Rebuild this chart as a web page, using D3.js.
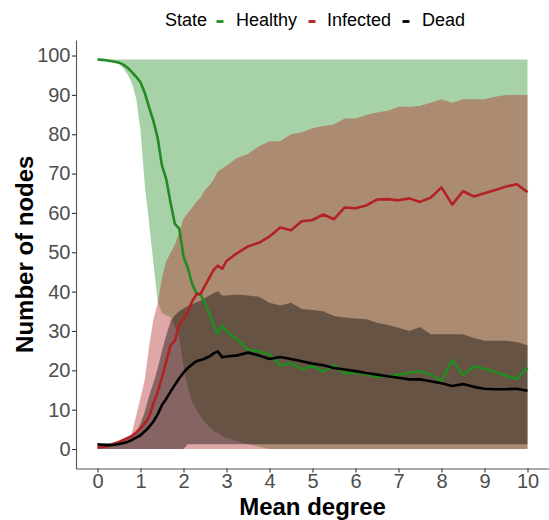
<!DOCTYPE html>
<html>
<head>
<meta charset="utf-8">
<script src="https://cdn.jsdelivr.net/npm/d3@7"></script>
<style>
  html, body { margin: 0; padding: 0; background: #fff; }
  svg { display: block; font-family: "Liberation Sans", Arial, sans-serif; }
</style>
</head>
<body>
<svg id="chart" width="549" height="520"></svg>
<script>
// Mean degree of the network (x positions of every observation)
const degree = [0,0.1,0.2,0.3,0.4,0.5,0.6,0.7,0.8,0.9,1,1.1,1.2,1.3,1.4,1.5,1.6,1.7,1.8,1.9,
  2,2.1,2.2,2.3,2.4,2.5,2.6,2.7,2.8,2.9,3,3.25,3.5,3.75,4,4.25,4.5,4.75,5,5.25,5.5,5.75,
  6,6.25,6.5,6.75,7,7.25,7.5,7.75,8,8.25,8.5,8.75,9,9.25,9.5,9.75,10];

// Mean number of nodes per state
const healthyMean = [99,98.9,98.8,98.6,98.4,98.2,97.7,96.9,95.8,94.6,93.2,90.5,86.8,83.4,79,72,68.5,62.5,57.2,56,
  49,46,42,39.6,39.2,37,34.5,31.5,29.2,31.4,30,27.8,25.3,24.8,24,21.3,21.8,20.3,21.1,19.7,21.3,19.2,
  19.4,19,18.3,18.5,18.9,19.4,19.8,18.9,17.3,22.6,18.8,21,20.4,19.6,18.6,17.8,20.7];
const infectedMean = [0.4,0.5,0.7,1,1.4,1.8,2.3,2.8,3.3,4.2,5.2,6.5,8.2,11.5,14.5,18.3,22.3,26.3,27.6,31.6,
  33,35,37.5,39.3,39.5,41.5,43.5,45.5,46.6,45.8,47.8,49.8,51.5,52.4,54,56.3,55.6,57.9,58.2,59.6,58.4,61.4,
  61.2,61.9,63.4,63.5,63.2,63.7,62.8,63.9,66.5,62.1,65.5,64.2,65,65.8,66.7,67.3,65.3];
const deadMean = [1.2,1.1,1,1,1.1,1.3,1.5,1.8,2.3,2.9,3.5,4.5,5.6,7,8.8,11.2,12.8,14.6,16.3,18,
  19.4,20.6,21.5,22.3,22.6,23,23.5,24.3,24.8,23.3,23.5,23.8,24.5,23.8,22.9,23.4,22.9,22.3,21.7,21.3,20.6,20.2,
  19.8,19.3,18.9,18.5,18.1,17.7,17.7,17.2,16.7,16,16.5,15.8,15.3,15.2,15.2,15.3,14.8];

// Range (low / high) of nodes per state across runs
const healthyLow = [99,99,99,98.8,98.5,97.9,96.8,95.2,93,89,81,67,57.5,47.3,37.5,34.5,34,33.5,31,28.5,
  21,15.5,12,10,8.2,6.8,5.6,4.6,4,3.3,2.8,2,1.2,0.6,0,0,0,0,0,0,0,0,
  0,0,0,0,0,0,0,0,0,0,0,0,0,0,0,0,0];
const healthyHigh = [99,99,99,99,99,99,99,99,99,99,99,99,99,99,99,99,99,99,99,99,
  99,99,99,99,99,99,99,99,99,99,99,99,99,99,99,99,99,99,99,99,99,99,
  99,99,99,99,99,99,99,99,99,99,99,99,99,99,99,99,99];
const infectedLow = [0,0,0,0,0,0,0,0,0,0,0,0,0,0,0,0,0,0,0,0,
  0,0,0,0,0,0,0,0,0,0,0,0,0,0,0,0,0,0,0,0,0,0,
  0,0,0,0,0,0,0,0,0,0,0,0,0,0,0,0,0];
const infectedHigh = [1,1,1,1.2,1.5,1.8,2.1,2.5,4,8.5,13,17.7,26,33,37,43.5,47.8,49.8,52,55,
  58.5,60,61.3,62.8,64,65.8,67,68.5,70.5,71.3,72,74,75,76.9,78.2,78.2,80,80.5,81.5,82.1,82.5,84,
  84,84.9,85.5,86,87,87,87.2,88,88.9,88,88.9,88.9,88.9,89.5,90,90,90];
const deadLow = [0,0,0,0,0,0,0,0,0,0,0,0,0,0,0,0,0,0,0,0,
  0,1.2,1.2,1.2,1.2,1.2,1.2,1.2,1.2,1.2,1.2,1.2,1.2,1.2,1.2,1.2,1.2,1.2,1.2,1.2,1.2,1.2,
  1.2,1.2,1.2,1.2,1.2,1.2,1.2,1.2,1.2,1.2,1.2,1.2,1.2,1.2,1.2,1.2,1.2];
const deadHigh = [1.5,1.5,1.5,1.5,1.8,2,2.4,2.8,3.3,4.3,6.5,9.5,13.5,16.8,20.5,25,29,32.5,34,35,
  35.7,36.3,36.8,37.3,37.7,38.3,39,39.6,40.1,39,39,39.3,39,38.7,37.2,36.5,37.2,35.6,35.3,35,33.8,33.4,
  33.2,33,32.1,31.5,30.8,30,31,29.2,29.2,29.2,29.2,28.2,27.5,27.5,27.5,27.2,26.4];

// Axis ticks and legend entries
const xTicks = [0,1,2,3,4,5,6,7,8,9,10];
const yTicks = [0,10,20,30,40,50,60,70,80,90,100];
const states = ["Healthy", "Infected", "Dead"];
const stateColors = ["#228B22", "#B22222", "#000000"];

const series = [
  { name: "Healthy", mean: healthyMean, low: healthyLow, high: healthyHigh },
  { name: "Infected", mean: infectedMean, low: infectedLow, high: infectedHigh },
  { name: "Dead", mean: deadMean, low: deadLow, high: deadHigh }
];

const svg = d3.select("#chart");
const panel = { left: 76, right: 549, top: 40, bottom: 468.5 };

const x = d3.scaleLinear().domain([-0.5, 10.5]).range([panel.left, panel.right]);
const y = d3.scaleLinear().domain([-4.95, 103.95]).range([panel.bottom, panel.top]);
const color = d3.scaleOrdinal().domain(states).range(stateColors);

// Ribbons (range across runs), translucent so overlaps blend
const area = d3.area()
  .x((d, i) => x(degree[i]))
  .y0(d => y(d[0]))
  .y1(d => y(d[1]));

svg.append("g").selectAll("path")
  .data(series)
  .join("path")
  .attr("d", s => area(s.low.map((v, i) => [v, s.high[i]])))
  .attr("fill", s => color(s.name))
  .attr("fill-opacity", 0.4)
  .attr("stroke", "none");

// Mean lines
const line = d3.line()
  .x((d, i) => x(degree[i]))
  .y(d => y(d));

svg.append("g").selectAll("path")
  .data(series)
  .join("path")
  .attr("d", s => line(s.mean))
  .attr("fill", "none")
  .attr("stroke", s => color(s.name))
  .attr("stroke-width", 2.6)
  .attr("stroke-linejoin", "round")
  .attr("stroke-linecap", "butt");

// Axes
const axisColor = "#555555";
const gx = svg.append("g")
  .attr("transform", `translate(0,${panel.bottom})`)
  .call(d3.axisBottom(x).tickValues(xTicks).tickFormat(d3.format("d")).tickSize(4).tickSizeOuter(0).tickPadding(1.5));
const gy = svg.append("g")
  .attr("transform", `translate(${panel.left},0)`)
  .call(d3.axisLeft(y).tickValues(yTicks).tickFormat(d3.format("d")).tickSize(4).tickSizeOuter(0).tickPadding(1.5));

[gx, gy].forEach(g => {
  g.select(".domain").attr("stroke", axisColor).attr("stroke-width", 1.1);
  g.selectAll(".tick line").attr("stroke", "#333333").attr("stroke-width", 1.1);
  g.selectAll(".tick text")
    .attr("fill", "#4D4D4D")
    .style("font-size", "20px")
    .style("font-family", "\"Liberation Sans\", Arial, sans-serif");
});

// Axis titles
svg.append("text")
  .attr("x", (panel.left + panel.right) / 2)
  .attr("y", 515)
  .attr("text-anchor", "middle")
  .style("font-size", "24px")
  .style("font-weight", "bold")
  .attr("fill", "#000")
  .text("Mean degree");

svg.append("text")
  .attr("transform", `translate(33,${(panel.top + panel.bottom) / 2}) rotate(-90)`)
  .attr("text-anchor", "middle")
  .style("font-size", "24px")
  .style("font-weight", "bold")
  .attr("fill", "#000")
  .text("Number of nodes");

// Legend across the top
const legend = svg.append("g").attr("class", "legend");
legend.append("text")
  .attr("x", 165)
  .attr("y", 26)
  .style("font-size", "18px")
  .attr("fill", "#000")
  .text("State");

const keyX = [216.5, 308.5, 402.5];
const labelX = [236, 327, 422];
const items = legend.selectAll("g.item")
  .data(states)
  .join("g")
  .attr("class", "item");
items.append("line")
  .attr("x1", (d, i) => keyX[i])
  .attr("x2", (d, i) => keyX[i] + 7)
  .attr("y1", 21.5)
  .attr("y2", 21.5)
  .attr("stroke", d => color(d))
  .attr("stroke-width", 2.8);
items.append("text")
  .attr("x", (d, i) => labelX[i])
  .attr("y", 26)
  .style("font-size", "18px")
  .attr("fill", "#000")
  .text(d => d);
</script>
</body>
</html>
